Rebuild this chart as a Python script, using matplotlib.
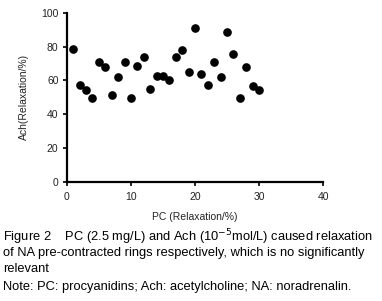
import numpy as np
import matplotlib.pyplot as plt

plt.rcParams['font.family'] = ['Liberation Sans', 'DejaVu Sans']

pc = list(range(1, 31))
ach = [78.6, 57.5, 54, 49.6, 70.6, 67.7, 51.6, 61.9, 70.6, 49.6,
       68.7, 73.6, 54.8, 62.7, 62.7, 60.5, 73.6, 78, 64.7, 90.9,
       63.5, 57.5, 70.6, 61.9, 88.7, 75.6, 49.6, 67.7, 56.7, 54]

fig = plt.figure(figsize=(3.82, 3.01), dpi=100)
ax = fig.add_axes([0.175, 0.397, 0.671, 0.56])
ax.plot(pc, ach, 'o', color='black', markersize=5.2)
ax.set_xlim(0, 40)
ax.set_ylim(0, 100)
ax.set_xticks([0, 10, 20, 30, 40])
ax.set_yticks([0, 20, 40, 60, 80, 100])
for s in ['top', 'right']:
    ax.spines[s].set_visible(False)
for s in ['left', 'bottom']:
    ax.spines[s].set_linewidth(1.6)
ax.tick_params(width=1.4, length=3, labelsize=7.5, colors='#222222')
ax.tick_params(axis='x', pad=4.5)
ax.tick_params(axis='y', pad=3)
ax.set_xlabel('PC (Relaxation/%)', fontsize=7.5, labelpad=7, color='#222222')
ax.set_ylabel('Ach(Relaxation/%)', fontsize=7.5, labelpad=9, color='#222222')

cap = 9.3
fig.text(0.008, 0.213, 'Figure 2    PC (2.5 mg/L) and Ach (10$^{-5}$mol/L) caused relaxation',
         fontsize=cap, va='center')
fig.text(0.008, 0.16, 'of NA pre-contracted rings respectively, which is no significantly',
         fontsize=cap, va='center')
fig.text(0.008, 0.107, 'relevant', fontsize=cap, va='center')
fig.text(0.008, 0.048, 'Note: PC: procyanidins; Ach: acetylcholine; NA: noradrenalin.',
         fontsize=cap, va='center')

fig.savefig('out.png', dpi=100)
